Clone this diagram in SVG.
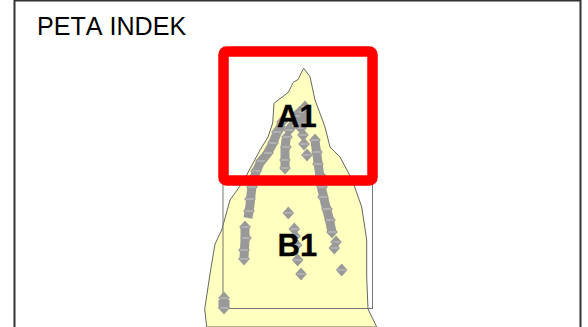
<svg xmlns="http://www.w3.org/2000/svg" width="588" height="327" viewBox="0 0 588 327">
<style>
text{font-family:"Liberation Sans",Arial,sans-serif;fill:#000}
.title{font-size:25.100px;font-kerning:none}
.lbl{font-size:31px;font-weight:bold;stroke:#000;stroke-width:.3px}
.stream{fill:none;stroke:#999;stroke-width:9;stroke-linejoin:round}
</style>
<defs>
<g id="d"><path d="M0-6.500 5.800 0 0 6.500-5.800 0Z" fill="#999"/><path d="M-4 0H4" stroke="#ddd" stroke-width=".7"/></g>
</defs>
<rect width="588" height="327" fill="#fff"/>
<path d="M14.500 327V.5H580.500V327" fill="none" stroke="#333" stroke-width="2"/>
<text class="title" x="37" y="35">PETA INDEK</text>
<path id="island" d="M303.700 68.300 301 73.300 298.300 79.300 293.300 82.300 288.300 92.300 274 103.300 272.700 123 268 137 260 150 246.700 175 240.700 185 230 200 221.700 230 215 244 210 274 204.700 309 206.700 327H376.700L368 309 366.700 277 366.700 240 361.700 207 354 185 348 172 340 157 330 147 325 127 315 100 310 76.700Z" fill="#ffffc0" stroke="#666" stroke-width="1"/>
<rect id="B1-box" x="223" y="180" width="149.500" height="128.500" fill="none" stroke="#777" stroke-width="1"/>
<g id="points">
<path class="stream" d="M282 124 277 133 272 145 267 154 260 163 256 172 252 185 250 205 248 218"/>
<path class="stream" d="M245 226 245 240 244 258" stroke-width="10"/>
<path class="stream" d="M286 139 285 148 285 170"/>
<path class="stream" d="M315 141 317 155 319 170 322 190 325 203 329 218 332 232"/>
<path class="stream" d="M294 124 303 120 306 110"/>
<path class="stream" d="M224 300 224 309" style="stroke-width:11"/>
<use href="#d" x="305" y="107"/><use href="#d" x="300" y="112"/><use href="#d" x="296" y="116"/>
<use href="#d" x="282" y="122"/><use href="#d" x="277" y="132"/><use href="#d" x="273" y="143"/><use href="#d" x="268" y="153"/><use href="#d" x="261" y="161"/><use href="#d" x="256" y="171"/><use href="#d" x="255" y="177"/>
<use href="#d" x="292" y="126"/><use href="#d" x="289" y="130"/><use href="#d" x="287" y="137"/><use href="#d" x="286" y="147"/><use href="#d" x="285" y="160"/><use href="#d" x="285" y="168"/>
<use href="#d" x="303" y="123"/><use href="#d" x="301" y="128"/><use href="#d" x="303" y="135"/><use href="#d" x="304" y="144"/><use href="#d" x="307" y="155"/>
<use href="#d" x="315" y="140"/><use href="#d" x="317" y="152"/><use href="#d" x="318" y="164"/><use href="#d" x="321" y="176"/>
<use href="#d" x="252" y="187"/><use href="#d" x="250" y="199"/><use href="#d" x="249" y="211"/><use href="#d" x="245" y="227"/><use href="#d" x="246" y="238"/><use href="#d" x="244" y="250"/><use href="#d" x="244" y="259"/>
<use href="#d" x="322" y="187"/><use href="#d" x="323" y="197"/><use href="#d" x="327" y="209"/><use href="#d" x="330" y="220"/><use href="#d" x="332" y="232"/>
<use href="#d" x="336" y="242"/><use href="#d" x="334.300" y="248"/>
<use href="#d" x="288.300" y="213"/><use href="#d" x="294.300" y="229"/><use href="#d" x="295" y="236"/><use href="#d" x="296.700" y="245"/><use href="#d" x="297.700" y="260"/><use href="#d" x="301" y="274"/><use href="#d" x="341.700" y="270"/>
<use href="#d" x="224" y="298"/><use href="#d" x="224" y="308"/>
</g>
<rect id="A1-box" x="223.500" y="51.500" width="149" height="129" rx="3" fill="none" stroke="#f00" stroke-width="10.500"/>
<g id="A1"><text class="lbl" x="277" y="127">A1</text></g>
<g id="B1"><text class="lbl" x="277.500" y="256">B1</text></g>
</svg>
